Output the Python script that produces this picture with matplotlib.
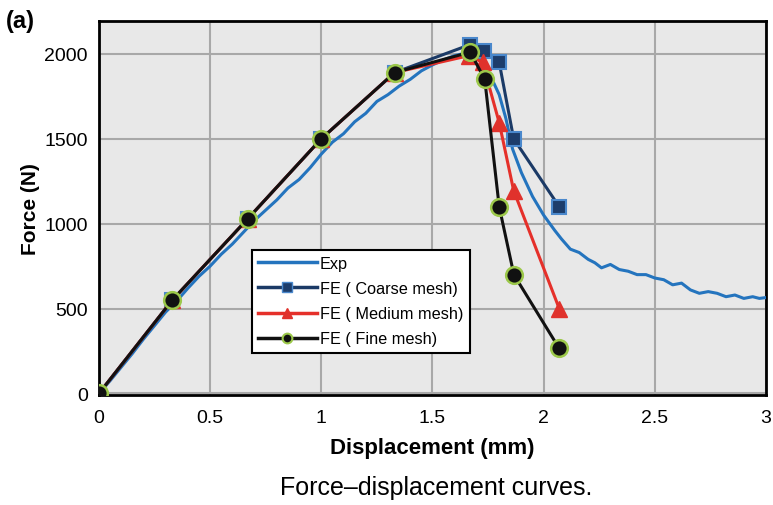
import matplotlib
matplotlib.use("Agg")
import matplotlib.pyplot as plt
from matplotlib.lines import Line2D

plt.rcParams['font.family'] = ['Liberation Sans', 'DejaVu Sans']

# Experimental curve
exp_x = [0.00, 0.05, 0.10, 0.15, 0.20, 0.25, 0.30, 0.35, 0.40, 0.45, 0.50, 0.55, 0.60, 0.65,
         0.70, 0.75, 0.80, 0.85, 0.90, 0.95, 1.00, 1.05, 1.10, 1.15, 1.20, 1.25, 1.30, 1.35,
         1.40, 1.45, 1.50, 1.55, 1.60, 1.65, 1.70, 1.75, 1.80, 1.83, 1.86, 1.90, 1.95, 2.00,
         2.05, 2.08, 2.12, 2.16, 2.20, 2.23, 2.26, 2.30, 2.34, 2.38, 2.42, 2.46, 2.50, 2.54,
         2.58, 2.62, 2.66, 2.70, 2.74, 2.78, 2.82, 2.86, 2.90, 2.94, 2.97, 3.00]
exp_y = [0, 75, 155, 235, 320, 400, 480, 545, 620, 690, 750, 820, 880, 950,
         1020, 1080, 1140, 1210, 1260, 1330, 1410, 1480, 1530, 1600, 1650, 1720, 1760, 1810,
         1850, 1900, 1935, 1965, 1990, 2005, 1985, 1900, 1760, 1620, 1440, 1300, 1160, 1050,
         960, 910, 850, 830, 790, 770, 740, 760, 730, 720, 700, 700, 680, 670,
         640, 650, 610, 590, 600, 590, 570, 580, 560, 570, 560, 565]

# FE results
coarse_x = [0.0, 0.33, 0.67, 1.0, 1.33, 1.67, 1.73, 1.80, 1.865, 2.07]
coarse_y = [0, 550, 1030, 1500, 1890, 2055, 2015, 1950, 1500, 1100]
medium_x = [0.0, 0.33, 0.67, 1.0, 1.33, 1.665, 1.725, 1.80, 1.865, 2.07]
medium_y = [0, 550, 1030, 1500, 1890, 1990, 1950, 1595, 1195, 500]
fine_x = [0.0, 0.33, 0.67, 1.0, 1.33, 1.67, 1.735, 1.80, 1.866, 2.07]
fine_y = [0, 550, 1030, 1500, 1890, 2010, 1850, 1100, 700, 265]

xticks = [0, 0.5, 1, 1.5, 2, 2.5, 3]
xticklabels = ['0', '0.5', '1', '1.5', '2', '2.5', '3']
yticks = [0, 500, 1000, 1500, 2000]

fig = plt.figure(figsize=(7.73, 5.06), dpi=100)
ax = fig.add_axes([0.128, 0.217, 0.863, 0.740])
ax.set_facecolor('#e8e8e8')

ax.plot(exp_x, exp_y, color='#2474be', lw=2.2, zorder=3, label='Exp')
ax.plot(coarse_x, coarse_y, color='#1b3a66', lw=2.2, marker='s', ms=10,
        mfc='#1d3d6b', mec='#4a88cc', mew=1.5, zorder=4, label='FE ( Coarse mesh)')
ax.plot(medium_x, medium_y, color='#e5302a', lw=2.2, marker='^', ms=11,
        mfc='#e0322c', mec='#e0322c', mew=1, zorder=5, label='FE ( Medium mesh)')
ax.plot(fine_x, fine_y, color='#111111', lw=2.2, marker='o', ms=12,
        mfc='#111111', mec='#9cc84a', mew=1.8, zorder=6, label='FE ( Fine mesh)')

ax.set_xlim(0, 3)
ax.set_ylim(-10, 2195)
ax.set_xticks(xticks)
ax.set_xticklabels(xticklabels)
ax.set_yticks(yticks)
ax.grid(True, color='#a8a8a8', lw=1.5, zorder=0)
ax.set_axisbelow(True)
ax.tick_params(axis='x', length=0, labelsize=14, pad=10)
ax.tick_params(axis='y', length=0, labelsize=14, pad=8)
for s in ax.spines.values():
    s.set_linewidth(2)
    s.set_color('black')

ax.set_xlabel('Displacement (mm)', fontsize=16, fontweight='bold', labelpad=8)
ax.set_ylabel('Force (N)', fontsize=15, fontweight='bold', labelpad=3)

handles = [
    Line2D([], [], color='#2474be', lw=2.5),
    Line2D([], [], color='#1b3a66', lw=2.5, marker='s', ms=7, mfc='#1d3d6b', mec='#4a88cc'),
    Line2D([], [], color='#e5302a', lw=2.5, marker='^', ms=7, mfc='#e0322c', mec='#e0322c'),
    Line2D([], [], color='#111111', lw=2.5, marker='o', ms=7, mfc='#111111', mec='#9cc84a', mew=1.5),
]
labels = ['Exp', 'FE ( Coarse mesh)', 'FE ( Medium mesh)', 'FE ( Fine mesh)']
leg = ax.legend(handles, labels, loc='upper left', bbox_to_anchor=(0.229, 0.389),
                fontsize=11.7, frameon=True, fancybox=False, framealpha=1,
                edgecolor='black', handlelength=3.6, handletextpad=0.2,
                borderpad=0.4, labelspacing=0.62, borderaxespad=0)
leg.get_frame().set_linewidth(1.5)
leg.set_zorder(10)

fig.text(0.008, 0.958, '(a)', fontsize=17, fontweight='bold', ha='left', va='center')
fig.text(0.564, 0.036, 'Force\u2013displacement curves.', fontsize=18, ha='center', va='center')

fig.savefig('out.png', dpi=100)
